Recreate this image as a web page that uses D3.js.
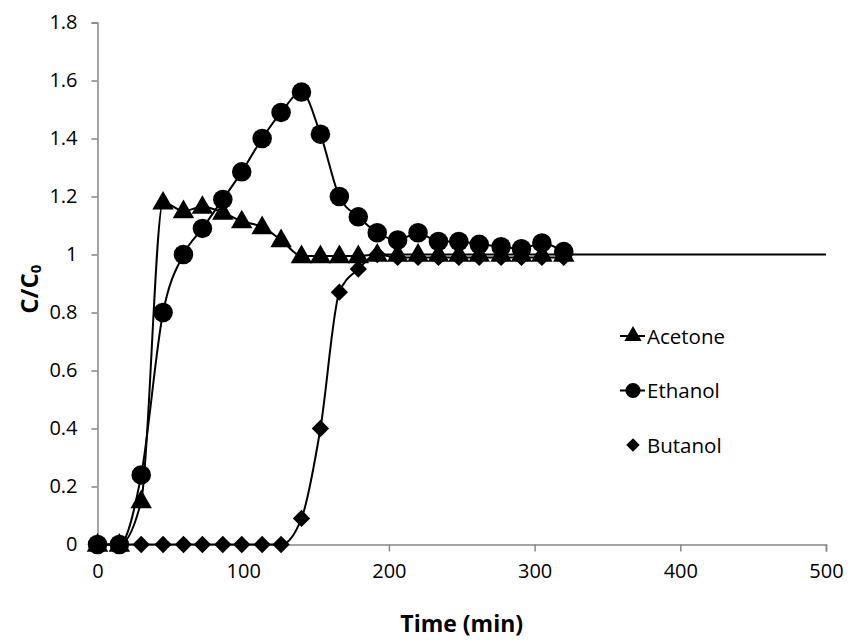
<!DOCTYPE html>
<html>
<head>
<meta charset="utf-8">
<script src="https://cdn.jsdelivr.net/npm/d3@7"></script>
<style>
  html, body { margin: 0; padding: 0; background: #fff; }
  svg { display: block; }
  text { font-family: "Open Sans", "Liberation Sans", sans-serif; fill: #000; }
</style>
</head>
<body>
<script>
// Sampling times (min) shared by the three breakthrough curves
const times = [0, 15, 30, 45, 59, 72, 86, 99, 113, 126, 140, 153, 166, 179, 192, 206, 220, 234, 248, 262, 277, 291, 305, 320];

// Normalised outlet concentration C/C0 per component
const acetone = [0, 0, 0.15, 1.18, 1.15, 1.165, 1.145, 1.115, 1.095, 1.05, 0.995, 0.995, 0.995, 0.995, 1, 1, 1, 1, 1, 1, 1, 1, 1, 1];
const ethanol = [0, 0, 0.24, 0.80, 1.00, 1.09, 1.19, 1.285, 1.40, 1.49, 1.56, 1.415, 1.20, 1.13, 1.075, 1.05, 1.075, 1.045, 1.045, 1.035, 1.027, 1.02, 1.04, 1.01];
const butanol = [0, 0, 0, 0, 0, 0, 0, 0, 0, 0, 0.09, 0.40, 0.87, 0.95, 1.0, 0.99, 0.99, 0.99, 0.99, 0.99, 0.99, 0.99, 0.99, 0.99];

// Feed level line carried on past the last sample
const feedTimes = [320, 500];
const feedLevel = [1, 1];

// Axis ticks
const xTicks = [0, 100, 200, 300, 400, 500];
const xTickLabels = ["0", "100", "200", "300", "400", "500"];
const yTicks = [0, 0.2, 0.4, 0.6, 0.8, 1, 1.2, 1.4, 1.6, 1.8];
const yTickLabels = ["0", "0.2", "0.4", "0.6", "0.8", "1", "1.2", "1.4", "1.6", "1.8"];

const seriesNames = ["Acetone", "Ethanol", "Butanol"];

const W = 848, H = 640;
const svg = d3.select("body").append("svg").attr("width", W).attr("height", H);

const x = d3.scaleLinear().domain([0, 500]).range([97.5, 826]);
const y = d3.scaleLinear().domain([0, 1.8]).range([544.5, 22.5]);

const axisColor = "#868686";

// Y axis
const yAxis = svg.append("g").attr("transform", `translate(${x(0)},0)`)
  .call(d3.axisLeft(y).tickValues(yTicks).tickSize(6).tickPadding(14)
    .tickFormat((d, i) => yTickLabels[i]));
yAxis.select(".domain").attr("stroke", axisColor).attr("stroke-width", 1.5);
yAxis.selectAll(".tick line").attr("stroke", axisColor).attr("stroke-width", 1.5);
yAxis.selectAll(".tick text").attr("font-size", 20).attr("fill", "#000");

// X axis
const xAxis = svg.append("g").attr("transform", `translate(0,${y(0)})`)
  .call(d3.axisBottom(x).tickValues(xTicks).tickSize(7).tickPadding(12)
    .tickFormat((d, i) => xTickLabels[i]));
xAxis.select(".domain").attr("stroke", axisColor).attr("stroke-width", 1.5);
xAxis.selectAll(".tick line").attr("stroke", axisColor).attr("stroke-width", 1.5);
xAxis.selectAll(".tick text").attr("font-size", 20).attr("fill", "#000");

// Axis titles
svg.append("text")
  .attr("x", (x(0) + x(500)) / 2).attr("y", 632)
  .attr("text-anchor", "middle").attr("font-size", 23).attr("font-weight", "bold")
  .text("Time (min)");

const yTitle = svg.append("text")
  .attr("transform", `translate(38,${y(0.88)}) rotate(-90)`)
  .attr("text-anchor", "middle").attr("font-size", 24).attr("font-weight", "bold");
yTitle.append("tspan").text("C/C");
yTitle.append("tspan").attr("font-size", 15).attr("dy", 3).text("0");

// Smoothed connecting lines without overshoot
const line = d3.line()
  .x(d => x(d[0])).y(d => y(d[1]))
  .curve(d3.curveMonotoneX);

const pairs = vals => times.map((t, i) => [t, vals[i]]);

svg.append("path").datum(feedTimes.map((t, i) => [t, feedLevel[i]]))
  .attr("d", line).attr("fill", "none").attr("stroke", "#000").attr("stroke-width", 2);

const marker = {
  Acetone: { path: d3.symbol().type(d3.symbolTriangle).size(200)(), rot: 0, dy: 1 },
  Ethanol: { path: d3.symbol().type(d3.symbolCircle).size(300)(), rot: 0, dy: 0 },
  Butanol: { path: d3.symbol().type(d3.symbolSquare).size(150)(), rot: 45, dy: 0 }
};
const data = { Acetone: acetone, Ethanol: ethanol, Butanol: butanol };

["Butanol", "Acetone", "Ethanol"].forEach(name => {
  svg.append("path").datum(pairs(data[name])).attr("d", line)
    .attr("fill", "none").attr("stroke", "#000").attr("stroke-width", 2);
});
["Butanol", "Acetone", "Ethanol"].forEach(name => {
  const m = marker[name];
  svg.append("g").selectAll("path").data(pairs(data[name])).join("path")
    .attr("transform", d => `translate(${x(d[0])},${y(d[1]) + m.dy}) rotate(${m.rot})`)
    .attr("d", m.path).attr("fill", "#000");
});

// Legend
const legendMarker = {
  Acetone: { path: d3.symbol().type(d3.symbolTriangle).size(130)(), rot: 0, line: true },
  Ethanol: { path: d3.symbol().type(d3.symbolCircle).size(180)(), rot: 0, line: true },
  Butanol: { path: d3.symbol().type(d3.symbolSquare).size(90)(), rot: 45, line: false }
};
seriesNames.forEach((name, i) => {
  const m = legendMarker[name];
  const g = svg.append("g").attr("transform", `translate(0,${336 + i * 54.5})`);
  if (m.line) {
    g.append("line").attr("x1", 620).attr("x2", 645).attr("y1", 0).attr("y2", 0)
      .attr("stroke", "#000").attr("stroke-width", 2);
  }
  g.append("path").attr("transform", `translate(633,0) rotate(${m.rot})`)
    .attr("d", m.path).attr("fill", "#000");
  g.append("text").attr("x", 647).attr("y", 7.5).attr("font-size", 20.5).text(name);
});
</script>
</body>
</html>
